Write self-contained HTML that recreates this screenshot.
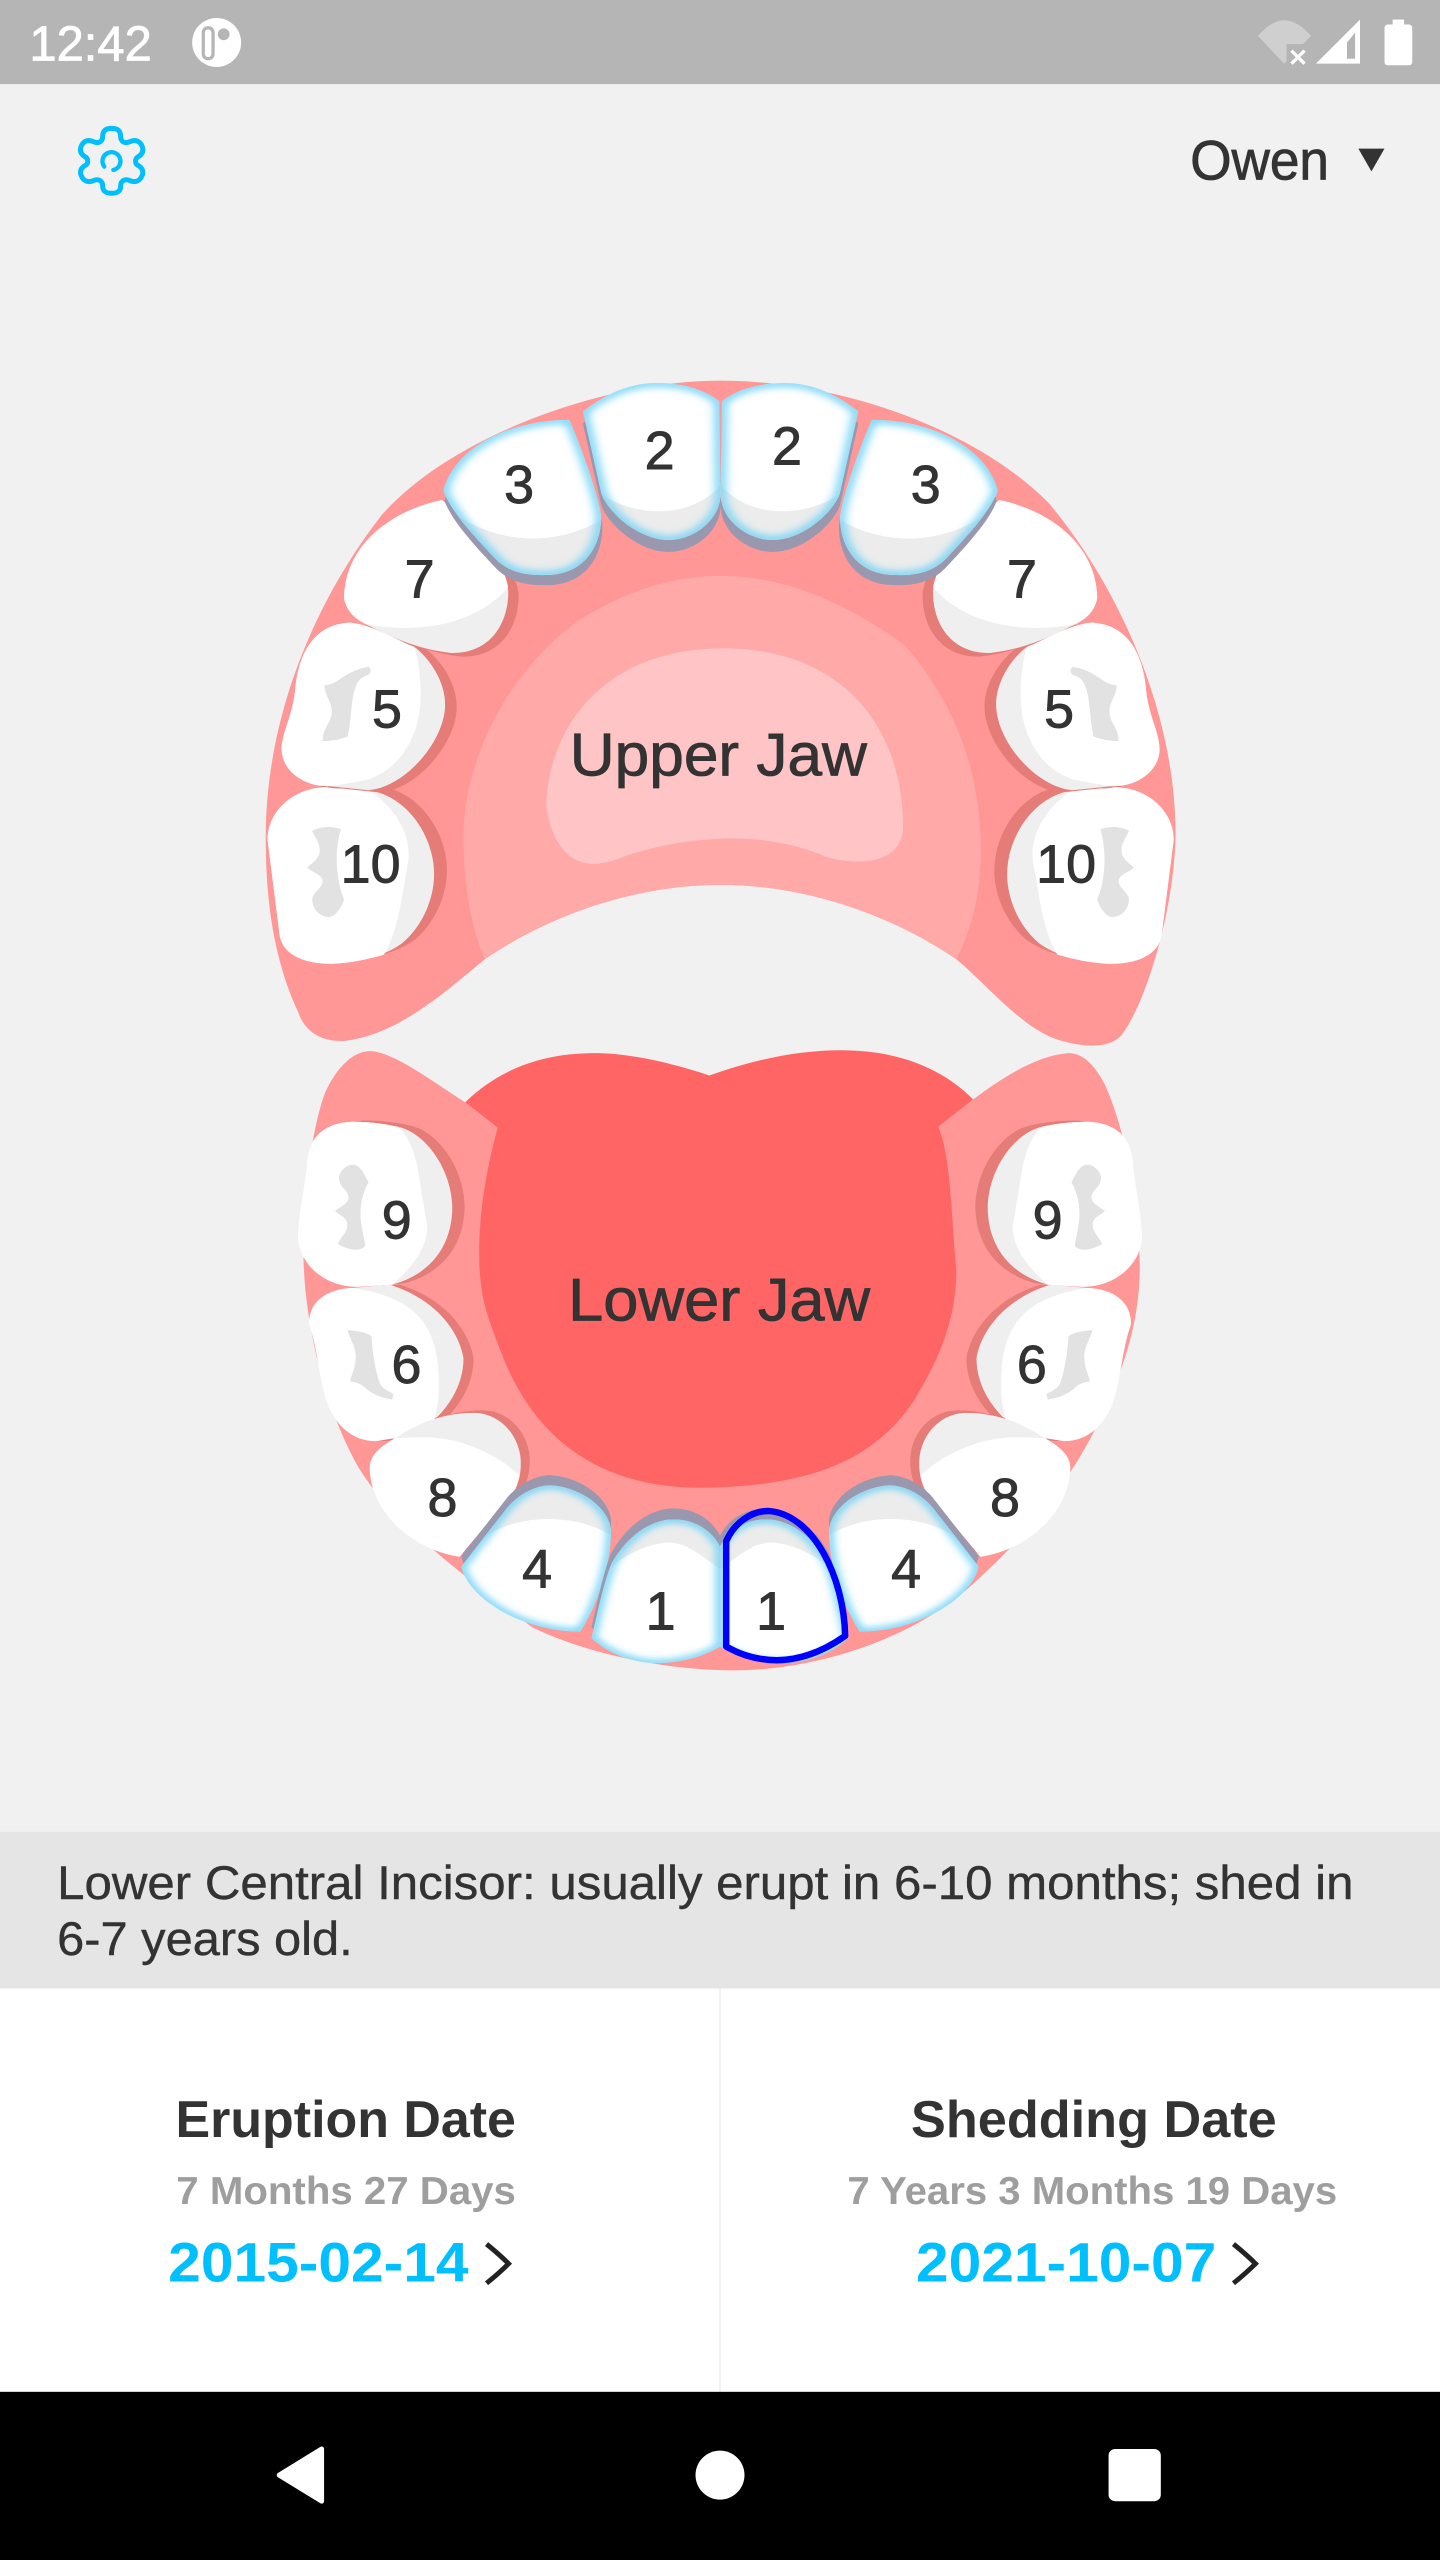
<!DOCTYPE html>
<html>
<head>
<meta charset="utf-8">
<title>Teeth</title>
<style>
html,body{margin:0;padding:0;background:#f1f1f1;}
svg{display:block;width:1440px;height:2560px;}
text{font-family:"Liberation Sans",sans-serif;}
.n{font-size:33px;fill:#333;text-anchor:middle;stroke:#333;stroke-width:.55;}
.j{font-size:37px;fill:#333;stroke:#333;stroke-width:.5;}
.d{font-size:29px;fill:#333;stroke:#333;stroke-width:.25;}
</style>
</head>
<body>
<svg xmlns="http://www.w3.org/2000/svg" width="1440" height="2560" viewBox="0 0 882 1568">
<defs>
<filter id="b" x="-30%" y="-30%" width="160%" height="160%"><feGaussianBlur stdDeviation="8"/></filter>
<path id="t3" d="M538 130 C440 130 350 190 332 285 C345 330 380 380 415 430 C440 465 470 470 505 468 C560 465 590 410 590 340 C585 290 555 180 538 130Z"/>
<path id="t2" d="M560 112 C600 70 640 50 680 50 C725 50 760 65 783 90 L785 290 C785 350 740 392 700 392 C650 392 600 330 590 290 Z"/>
<path id="t4" d="M480 1082 C450 1085 425 1105 405 1135 L323 1275 C335 1350 430 1430 535 1430 C565 1370 590 1270 590 1190 C585 1130 530 1085 480 1082Z"/>
<path id="t1" d="M700 1163 C650 1165 610 1220 590 1270 C575 1320 565 1390 555 1445 C590 1490 640 1505 670 1505 C710 1505 755 1490 785 1465 L785 1230 C770 1190 740 1163 700 1163Z"/>
<clipPath id="c3"><use href="#t3"/></clipPath>
<clipPath id="c2"><use href="#t2"/></clipPath>
<clipPath id="c4"><use href="#t4"/></clipPath>
<clipPath id="c1"><use href="#t1"/></clipPath>

<g id="upperTeeth">
  <!-- 10 -->
  <g>
    <path transform="translate(21,-8)" fill="#e57c78" d="M145 930 C85 930 45 985 45 1045 L65 1255 C72 1300 110 1315 150 1315 C200 1312 240 1295 265 1270 C300 1230 317 1170 317 1120 C317 1040 275 950 210 937 Z"/>
    <path fill="#efefef" d="M145 930 C85 930 45 985 45 1045 L65 1255 C72 1300 110 1315 150 1315 C200 1312 240 1295 265 1270 C300 1230 317 1170 317 1120 C317 1040 275 950 210 937 Z"/>
    <path fill="#fff" d="M145 930 C85 930 45 985 45 1045 L65 1255 C72 1300 110 1315 150 1315 C180 1313 210 1305 235 1295 C260 1240 265 1160 275 1090 C280 1030 250 970 210 937 Z"/>
    <path fill="#e2e2e2" d="M118 1025 C135 1015 150 1015 165 1022 C155 1060 155 1130 170 1175 C165 1195 155 1213 145 1213 C130 1213 118 1195 118 1175 C118 1160 135 1150 135 1135 C135 1120 115 1115 110 1105 C118 1095 132 1085 130 1065 C130 1050 122 1040 118 1025Z"/>
  </g>
  <!-- 5 -->
  <g>
    <path transform="translate(19,5)" fill="#e57c78" d="M180 572 C120 575 95 640 90 720 C85 780 68 810 68 850 C70 900 110 930 145 928 L210 937 C270 930 335 830 335 750 C335 700 310 650 285 625 C255 610 220 578 180 572 Z"/>
    <path fill="#efefef" d="M180 572 C120 575 95 640 90 720 C85 780 68 810 68 850 C70 900 110 930 145 928 L210 937 C270 930 335 830 335 750 C335 700 310 650 285 625 C255 610 220 578 180 572 Z"/>
    <path fill="#fff" d="M180 572 C120 575 95 640 90 720 C85 780 68 810 68 850 C70 900 110 930 145 928 C165 925 185 920 205 915 C260 895 295 820 295 730 C295 690 292 660 285 625 C255 610 220 578 180 572Z"/>
    <path fill="#e2e2e2" d="M210 668 C216 675 214 685 205 688 C190 695 185 720 182 760 C180 790 178 805 176 820 C165 826 150 830 135 830 C135 800 150 790 150 765 C150 745 138 730 138 708 C155 708 165 690 185 678 C195 672 203 670 210 668Z"/>
  </g>
  <!-- 7 -->
  <g>
    <path transform="translate(17,8)" fill="#e57c78" d="M330 305 C240 330 170 410 170 520 C175 550 190 565 205 575 C250 605 290 630 345 638 C410 640 440 570 438 500 C430 440 400 390 330 305Z"/>
    <path fill="#efefef" d="M330 305 C240 330 170 410 170 520 C175 550 190 565 205 575 C250 605 290 630 345 638 C410 640 440 570 438 500 C430 440 400 390 330 305Z"/>
    <path fill="#fff" d="M330 305 C240 330 170 410 170 520 C175 550 190 565 205 575 C300 600 390 570 438 495 C430 440 400 390 330 305Z"/>
  </g>
  <!-- 3 -->
  <g>
    <use href="#t3" transform="translate(2,22)" fill="#9a98ae"/>
    <g clip-path="url(#c3)">
      <use href="#t3" fill="#fff"/>
      <path fill="#ececec" d="M335 320 C400 390 500 420 595 345 L600 500 L330 500Z"/>
      <use href="#t3" fill="none" stroke="#6fd2f5" stroke-width="16" filter="url(#b)"/>
    </g>
  </g>
  <!-- 2 -->
  <g>
    <use href="#t2" transform="translate(0,26)" fill="#9a98ae"/>
    <g clip-path="url(#c2)">
      <use href="#t2" fill="#fff"/>
      <path fill="#ececec" d="M585 285 C620 330 730 365 790 265 L790 420 L580 420Z"/>
      <use href="#t2" fill="none" stroke="#6fd2f5" stroke-width="16" filter="url(#b)"/>
    </g>
  </g>
</g>

<g id="lowerTeeth">
  <!-- 9 -->
  <g>
    <path transform="translate(22,-3)" fill="#e57c78" d="M130 218 C75 220 50 260 48 320 C45 370 32 440 32 500 C40 570 90 612 140 610 L200 605 C270 580 307 510 307 420 C305 330 260 245 210 230 C185 222 155 218 130 218Z"/>
    <path fill="#efefef" d="M130 218 C75 220 50 260 48 320 C45 370 32 440 32 500 C40 570 90 612 140 610 L200 605 C270 580 307 510 307 420 C305 330 260 245 210 230 C185 222 155 218 130 218Z"/>
    <path fill="#fff" d="M130 218 C75 220 50 260 48 320 C45 370 32 440 32 500 C40 570 90 612 140 610 L200 605 C240 560 265 510 262 460 L250 370 C245 310 235 260 210 230 C185 222 155 218 130 218Z"/>
    <path fill="#e2e2e2" d="M130 320 C145 322 150 345 158 362 C145 390 140 430 146 470 L152 512 C148 522 138 522 130 522 C120 520 110 515 103 508 C110 490 120 480 120 462 C120 445 105 440 98 430 C108 420 122 412 122 398 C122 380 105 375 105 350 C107 335 118 320 130 320Z"/>
  </g>
  <!-- 6 -->
  <g>
    <path transform="translate(18,0)" fill="#e57c78" d="M130 613 C80 615 50 650 52 700 C70 770 70 840 85 890 C100 940 130 977 170 977 L205 970 L280 920 C310 880 327 830 327 780 C320 720 280 640 195 605 Z"/>
    <path fill="#efefef" d="M130 613 C80 615 50 650 52 700 C70 770 70 840 85 890 C100 940 130 977 170 977 L205 970 L280 920 C310 880 327 830 327 780 C320 720 280 640 195 605 Z"/>
    <path fill="#fff" d="M130 613 C80 615 50 650 52 700 C70 770 70 840 85 890 C100 940 130 977 170 977 L205 970 L275 925 C285 880 285 830 280 780 C270 700 240 635 130 613Z"/>
    <path fill="#e2e2e2" d="M120 713 C135 715 155 718 163 728 C165 770 170 810 178 840 C185 858 200 860 202 866 L200 878 C180 875 160 862 150 848 C142 838 133 838 125 835 C128 815 135 800 135 775 C135 755 125 735 120 713Z"/>
  </g>
  <!-- 8 -->
  <g>
    <path transform="translate(16,-6)" fill="#e57c78" d="M345 910 C280 910 235 945 205 970 C180 990 160 1010 160 1040 C160 1130 220 1230 320 1252 L420 1090 C430 1060 430 1030 428 1010 C420 950 385 910 345 910Z"/>
    <path fill="#efefef" d="M345 910 C280 910 235 945 205 970 C180 990 160 1010 160 1040 C160 1130 220 1230 320 1252 L420 1090 C430 1060 430 1030 428 1010 C420 950 385 910 345 910Z"/>
    <path fill="#fff" d="M205 970 C180 990 160 1010 160 1040 C160 1130 220 1230 320 1252 L415 1100 L427 1060 C390 1010 320 965 250 968 Z"/>
  </g>
  <!-- 4 -->
  <g>
    <use href="#t4" transform="translate(0,-24)" fill="#9a98ae"/>
    <g clip-path="url(#c4)">
      <use href="#t4" fill="#fff"/>
      <path fill="#ececec" d="M360 1210 C410 1155 520 1140 595 1205 L595 1050 L360 1050Z"/>
      <use href="#t4" fill="none" stroke="#6fd2f5" stroke-width="16" filter="url(#b)"/>
    </g>
  </g>
  <!-- 1 -->
  <g>
    <use href="#t1" transform="translate(0,-26)" fill="#9a98ae"/>
    <g clip-path="url(#c1)">
      <use href="#t1" fill="#fff"/>
      <path fill="#ececec" d="M590 1275 C630 1235 680 1205 720 1225 C745 1240 765 1265 790 1285 L790 1130 L590 1130Z"/>
      <use href="#t1" fill="none" stroke="#6fd2f5" stroke-width="16" filter="url(#b)"/>
    </g>
  </g>
</g>
</defs>

<!-- background -->
<rect width="882" height="1568" fill="#f1f1f1"/>

<!-- status bar -->
<rect width="882" height="51.5" fill="#b5b5b5"/>
<text x="18" y="37" font-size="30" fill="#fff" stroke="#fff" stroke-width=".5" textLength="75" lengthAdjust="spacingAndGlyphs">12:42</text>
<circle cx="132.7" cy="26" r="15" fill="#fff"/>
<rect x="123.5" y="16" width="8" height="21" rx="4" fill="#b5b5b5"/>
<rect x="125.5" y="18" width="4" height="17" rx="2" fill="#fff"/>
<circle cx="137" cy="21" r="3.6" fill="#b5b5b5"/>
<path d="M770.5 22 Q786.5 3 803 22 L786.5 39Z" fill="#cfcfcf"/>
<rect x="788" y="27" width="14" height="13" fill="#b5b5b5"/>
<path d="M791 31 L799 39 M799 31 L791 39" stroke="#fff" stroke-width="2"/>
<path d="M806 39 L833 12 L833 39Z" fill="#fff"/>
<path d="M825 36 L825 26 L830 20 L830 36Z" fill="#b5b5b5"/>
<rect x="853" y="12" width="7" height="5" fill="#fff"/>
<rect x="848" y="15" width="17" height="25" rx="2" fill="#fff"/>

<!-- gear -->
<g transform="translate(36.75,67.37) scale(.2041)" fill="none" stroke="#00bfff" stroke-linecap="round" stroke-linejoin="round">
  <path stroke-width="15" d="M128 80 C128 60 140 55 155 55 C170 55 182 60 182 80 C182 95 195 102 210 95 C225 88 240 92 247 110 C252 125 245 135 232 142 C225 148 225 160 232 165 C245 172 252 182 247 195 C240 215 225 218 210 212 C195 205 182 212 182 228 C182 245 170 250 155 250 C140 250 128 245 128 228 C128 212 115 205 100 212 C85 218 70 215 63 195 C58 182 65 172 78 165 C85 160 85 148 78 142 C65 135 58 125 63 110 C70 92 85 88 100 95 C115 102 128 95 128 80Z"/>
  <path stroke-width="13" d="M133 170 A27 27 0 1 1 160 180"/>
</g>

<!-- user -->
<text x="729" y="110" font-size="34" fill="#333" stroke="#333" stroke-width=".5" textLength="85" lengthAdjust="spacingAndGlyphs">Owen</text>
<path d="M832 91 L848 91 L840 105Z" fill="#333"/>

<!-- upper jaw -->
<g transform="translate(147,220.5) scale(.375,.28125)">
  <path fill="#ff9797" d="M785 45 C980 45 1200 150 1320 310 C1440 500 1530 780 1528 1040 C1525 1200 1480 1400 1440 1470 C1420 1500 1380 1497 1340 1482 C1280 1460 1220 1360 1170 1305 C1060 1205 920 1143 785 1143 C650 1143 510 1205 400 1305 C340 1370 260 1470 170 1483 C130 1485 105 1460 95 1420 C60 1320 42 1200 42 1040 C42 780 120 530 230 340 C340 170 590 45 785 45Z"/>
  <path fill="#ffa9a9" d="M785 470 C900 470 1000 540 1085 620 C1170 750 1210 900 1210 1070 C1210 1160 1195 1240 1170 1305 C1060 1205 920 1143 785 1143 C650 1143 510 1205 400 1305 C375 1230 365 1130 365 1040 C365 880 430 690 550 570 C620 510 700 470 785 470Z"/>
  <path fill="#ffc4c6" d="M790 628 C970 628 1083 780 1083 1020 C1080 1080 1040 1095 1000 1092 C980 1090 960 1085 950 1078 C900 1050 840 1040 790 1042 C730 1045 670 1060 620 1085 C590 1100 570 1100 555 1092 C520 1075 505 1020 500 970 C505 790 600 628 790 628Z"/>
  <use href="#upperTeeth"/>
  <use href="#upperTeeth" transform="matrix(-1 0 0 1 1570 0)"/>
</g>

<!-- lower jaw -->
<g transform="translate(171.5,630.9) scale(.34375,.2577)">
  <path fill="#ff9797" d="M160 50 C130 50 100 90 80 150 C55 240 42 400 42 550 C45 700 80 900 140 1040 C200 1170 320 1290 450 1420 C560 1490 700 1522 810 1522 C950 1522 1130 1450 1240 1310 C1340 1190 1420 1050 1470 900 C1510 780 1532 680 1532 560 C1530 420 1510 250 1470 130 C1450 80 1430 55 1405 55 C1350 60 1290 110 1235 165 L1173 230 L388 232 L330 172 C270 120 200 50 160 50Z"/>
  <path fill="#ff6565" d="M765 108 C690 75 620 55 560 55 C460 55 385 100 330 172 L388 232 C370 320 355 420 355 530 C355 640 370 680 395 770 C450 960 560 1088 750 1088 C950 1085 1060 1020 1130 880 C1180 770 1205 680 1205 570 C1195 420 1195 300 1173 230 L1235 165 C1180 90 1100 48 1000 48 C920 48 840 72 765 108Z"/>
  <use href="#lowerTeeth"/>
  <use href="#lowerTeeth" transform="matrix(-1 0 0 1 1568 0)"/>
  <path fill="none" stroke="#0000ff" stroke-width="6.5" vector-effect="non-scaling-stroke" stroke-linejoin="round" d="M795 1465 L795 1215 C810 1170 840 1143 870 1143 C950 1150 1005 1300 1007 1440 C970 1475 930 1497 885 1498 C850 1497 820 1485 795 1465Z"/>
</g>

<!-- tooth numbers -->
<text class="n" x="318" y="308">3</text>
<text class="n" x="404" y="287.4">2</text>
<text class="n" x="482" y="284.6">2</text>
<text class="n" x="567" y="308">3</text>
<text class="n" x="257" y="366">7</text>
<text class="n" x="626" y="366">7</text>
<text class="n" x="237" y="445.5">5</text>
<text class="n" x="648.7" y="445.5">5</text>
<text class="n" x="227" y="540.5">10</text>
<text class="n" x="653" y="540.5">10</text>
<text class="n" x="243" y="758.5">9</text>
<text class="n" x="641.7" y="758.5">9</text>
<text class="n" x="249" y="847">6</text>
<text class="n" x="632" y="847">6</text>
<text class="n" x="271" y="928.6">8</text>
<text class="n" x="615.6" y="928.6">8</text>
<text class="n" x="329" y="972.4">4</text>
<text class="n" x="555" y="972.4">4</text>
<text class="n" x="404.6" y="998">1</text>
<text class="n" x="472.3" y="998">1</text>

<text class="j" x="349" y="475" textLength="182" lengthAdjust="spacingAndGlyphs">Upper Jaw</text>
<text class="j" x="348" y="808.7" textLength="185" lengthAdjust="spacingAndGlyphs">Lower Jaw</text>

<!-- description -->
<rect x="0" y="1122" width="882" height="96" fill="#e5e5e5"/>
<text class="d" x="35" y="1163" textLength="794" lengthAdjust="spacingAndGlyphs">Lower Central Incisor: usually erupt in 6-10 months; shed in</text>
<text class="d" x="35" y="1197.5" textLength="181" lengthAdjust="spacingAndGlyphs">6-7 years old.</text>

<!-- panel -->
<rect x="0" y="1218" width="882" height="247" fill="#fff"/>
<rect x="440.5" y="1218" width="1" height="247" fill="#f0f0f0"/>
<text x="107.5" y="1309" font-size="32" font-weight="bold" fill="#333" textLength="208.5" lengthAdjust="spacingAndGlyphs">Eruption Date</text>
<text x="558" y="1309" font-size="32" font-weight="bold" fill="#333" textLength="224" lengthAdjust="spacingAndGlyphs">Shedding Date</text>
<text x="108" y="1350" font-size="24" font-weight="bold" fill="#9e9e9e" textLength="208" lengthAdjust="spacingAndGlyphs">7 Months 27 Days</text>
<text x="519" y="1350" font-size="24" font-weight="bold" fill="#9e9e9e" textLength="300" lengthAdjust="spacingAndGlyphs">7 Years 3 Months 19 Days</text>
<text x="103" y="1397.5" font-size="34" font-weight="bold" fill="#00bfff" textLength="184" lengthAdjust="spacingAndGlyphs">2015-02-14</text>
<text x="561" y="1397.5" font-size="34" font-weight="bold" fill="#00bfff" textLength="184" lengthAdjust="spacingAndGlyphs">2021-10-07</text>
<path d="M298 1374.5 Q306 1381 311.5 1386.5 Q306 1392 298 1398.5" fill="none" stroke="#222" stroke-width="3"/>
<path d="M755.5 1374.5 Q763.5 1381 769 1386.5 Q763.5 1392 755.5 1398.5" fill="none" stroke="#222" stroke-width="3"/>

<!-- nav bar -->
<rect x="0" y="1465" width="882" height="103" fill="#000"/>
<path d="M197 1500 L171 1516 L197 1532Z" fill="#fff" stroke="#fff" stroke-width="3" stroke-linejoin="round"/>
<circle cx="441" cy="1516" r="15" fill="#fff"/>
<rect x="679" y="1500" width="32" height="32" rx="4" fill="#fff"/>
</svg>
</body>
</html>
